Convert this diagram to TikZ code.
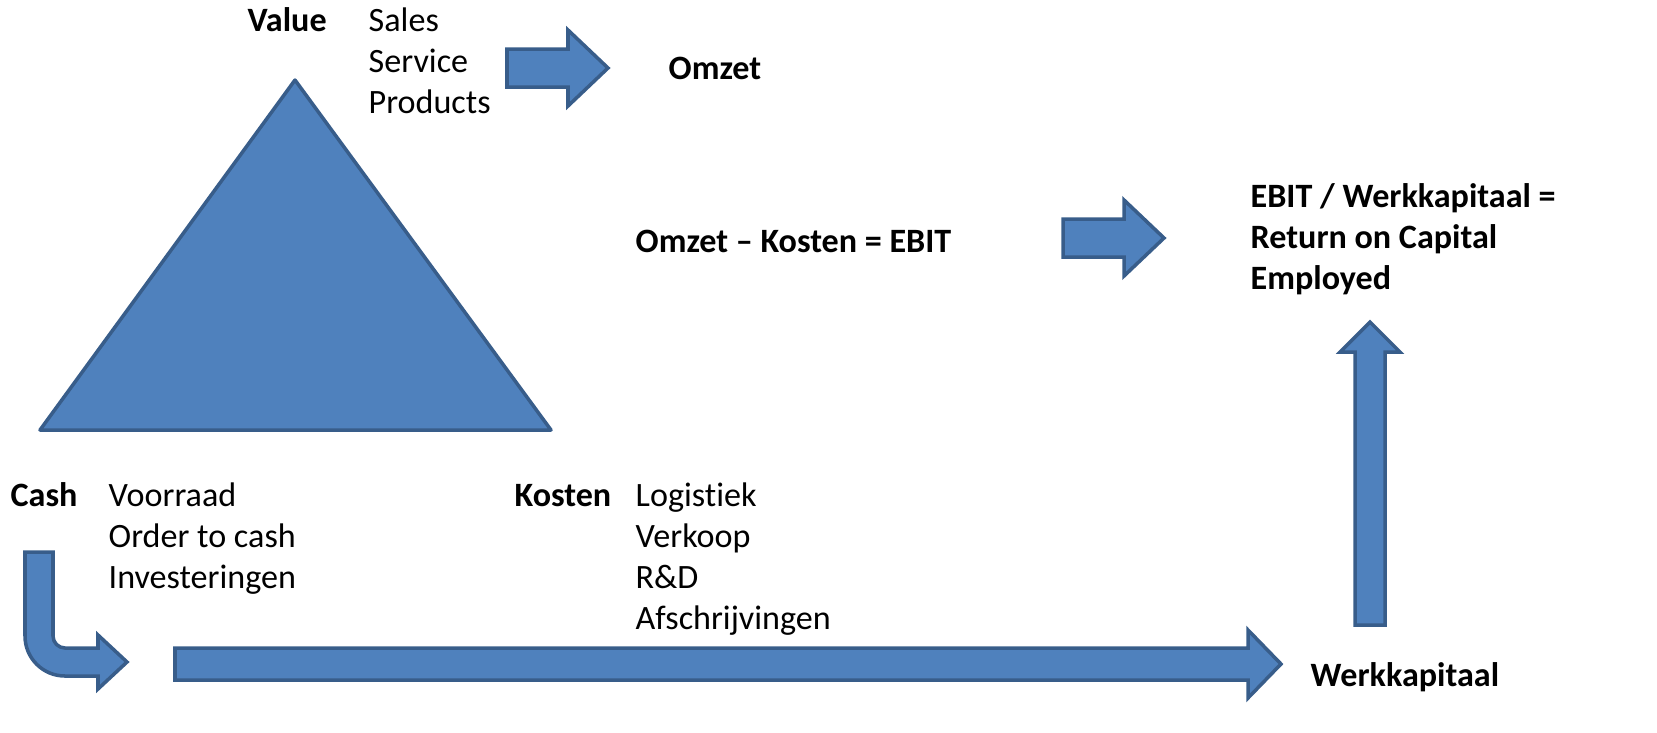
\documentclass[tikz,border=0pt]{standalone}
\usepackage{fontspec}
\setmainfont{Carlito}[Ligatures={NoCommon}]
\definecolor{accfill}{HTML}{4F81BD}
\definecolor{accline}{HTML}{385D8A}
\tikzset{
  blockarrow/.style={fill=accfill, draw=accline, line width=1pt, line join=miter},
  txt/.style={inner sep=0pt, anchor=west, text height=0.64em, text depth=0pt, font=\fontsize{9.7}{11.7}\selectfont},
  btxt/.style={txt, font=\fontsize{9.7}{11.7}\selectfont\bfseries}
}
\begin{document}
\begin{tikzpicture}[x=0.01cm, y=-0.01cm]
\useasboundingbox (0,0) rectangle (1657,732);
% triangle
\draw[blockarrow, line join=round] (295,80) -- (40,430) -- (551,430) -- cycle;

% block arrows
\draw[blockarrow] (507,49) -- (568,49) -- (568,30) -- (608,68) -- (568,106) -- (568,87) -- (507,87) -- cycle;
\draw[blockarrow] (1063,219) -- (1124,219) -- (1124,200) -- (1164,238) -- (1124,276) -- (1124,257) -- (1063,257) -- cycle;
\draw[blockarrow] (175,648) -- (1248,648) -- (1248,630) -- (1281,664) -- (1248,698) -- (1248,680) -- (175,680) -- cycle;
\draw[blockarrow] (1355,625) -- (1355,352) -- (1340,352) -- (1370,322) -- (1400,352) -- (1385,352) -- (1385,625) -- cycle;
% bent arrow
\draw[blockarrow] (25,552) -- (53,552) -- (53,636) .. controls (53,642.6) and (58.4,648) .. (65,648)
  -- (98,648) -- (98,635) -- (127,662) -- (98,689) -- (98,676) -- (65,676)
  .. controls (42.9,676) and (25,658.1) .. (25,636) -- cycle;

% labels
\node[btxt] (value) at (247,20) {Value};
\foreach \t [count=\i] in {Sales,Service,Products}
  \node[txt] (value\i) at (368,{20+41*(\i-1)}) {\t};
\node[btxt] (omzet) at (668,68) {Omzet};
\node[btxt] (ebit) at (635,241) {Omzet – Kosten = EBIT};
\foreach \t [count=\i] in {EBIT / Werkkapitaal =,Return on Capital,Employed}
  \node[btxt] (roce\i) at (1250,{196+41*(\i-1)}) {\t};

\node[btxt] (cash) at (10,495) {Cash};
\foreach \t [count=\i] in {Voorraad,Order to cash,Investeringen}
  \node[txt] (cash\i) at (108,{495+41*(\i-1)}) {\t};
\node[btxt] (kosten) at (514,495) {Kosten};
\foreach \t [count=\i] in {Logistiek,Verkoop,R\&D,Afschrijvingen}
  \node[txt] (kosten\i) at (635,{495+41*(\i-1)}) {\t};
\node[btxt] (werk) at (1310,675) {Werkkapitaal};
\end{tikzpicture}
\end{document}
